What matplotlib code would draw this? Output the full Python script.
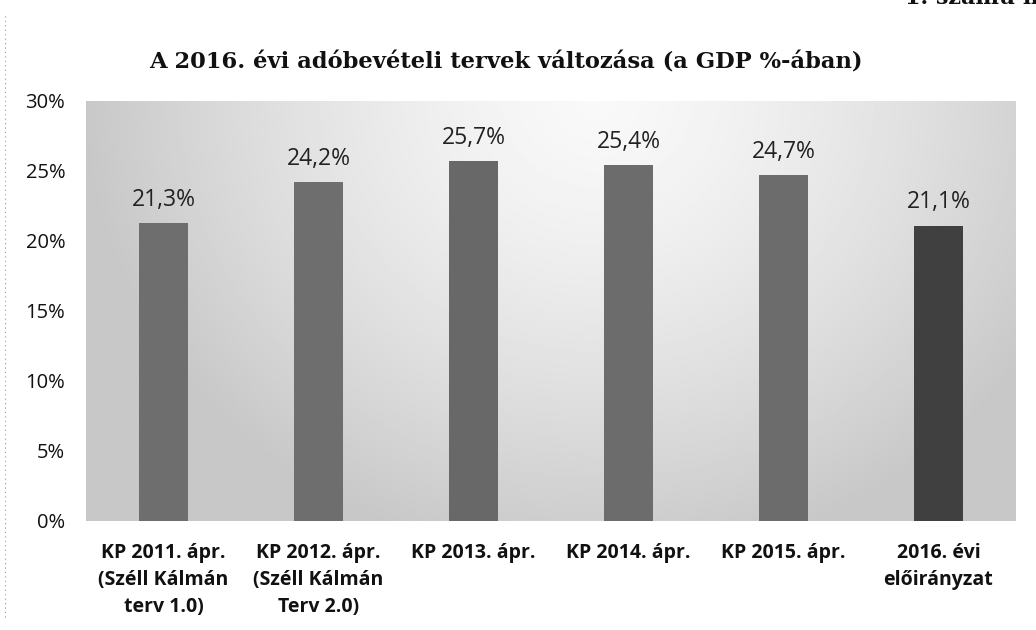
import numpy as np
import matplotlib
matplotlib.use("Agg")
import matplotlib.pyplot as plt

categories = ["KP 2011. ápr.\n(Széll Kálmán\nterv 1.0)",
              "KP 2012. ápr.\n(Széll Kálmán\nTerv 2.0)",
              "KP 2013. ápr.",
              "KP 2014. ápr.",
              "KP 2015. ápr.",
              "2016. évi\nelőirányzat"]
values = [21.3, 24.2, 25.7, 25.4, 24.7, 21.1]
labels = ["21,3%", "24,2%", "25,7%", "25,4%", "24,7%", "21,1%"]
yticks = [0, 5, 10, 15, 20, 25, 30]
bar_colors = ["#6e6e6e", "#6e6e6e", "#686868", "#6c6c6c", "#6c6c6c", "#404040"]

fig = plt.figure(figsize=(10.36, 6.3), dpi=100)
fig.patch.set_facecolor("white")
ax = fig.add_axes([86/1036, 1-521/630, 930/1036, 420/630])

# radial gradient background
ny, nx = 200, 400
yy, xx = np.mgrid[0:1:ny*1j, 0:1:nx*1j]
d = np.sqrt(((xx-0.55)/0.55)**2 + ((yy-0.0)/1.1)**2)
g = 0.975 - 0.19*np.clip(d, 0, 1)**1.4
ax.imshow(g, extent=[-0.5, 5.5, 0, 30], origin="upper", cmap="gray",
          vmin=0, vmax=1, aspect="auto", zorder=0, interpolation="bilinear")

x = np.arange(len(values))
ax.bar(x, values, width=0.32, color=bar_colors, zorder=2)
for xi, v, lab in zip(x, values, labels):
    ax.text(xi, v + 0.8, lab, ha="center", va="bottom", fontsize=16.5,
            family="Open Sans", color="#222222", zorder=3)

ax.set_xlim(-0.5, 5.5)
ax.set_ylim(0, 30)
ax.set_yticks(yticks)
ax.set_yticklabels([f"{t}%" for t in yticks], fontsize=14.5, family="Open Sans")
ax.set_xticks(x)
ax.set_xticklabels(categories, fontsize=14, family="Open Sans",
                   fontweight="bold", linespacing=1.45)
ax.tick_params(axis="both", length=0, colors="#111111")
ax.tick_params(axis="y", pad=15)
ax.tick_params(axis="x", pad=16)
for s in ax.spines.values():
    s.set_visible(False)

fig.text(0.488, 1-63/630, "A 2016. évi adóbevételi tervek változása (a GDP %-ában)",
         ha="center", va="center", fontsize=16.3, fontweight="bold",
         family="DejaVu Serif", color="#111111")
fig.text(905/1036, 1.003, "1. számú melléklet", ha="left", va="center",
         fontsize=16, fontweight="bold", family="DejaVu Serif", color="#111111")

# faint dotted scan edge on the left
fig.add_artist(plt.Line2D([5/1036, 5/1036], [0.02, 0.98], transform=fig.transFigure,
                          color="#999999", lw=0.8, ls=(0, (1, 3))))

fig.savefig("out.png", dpi=100)
